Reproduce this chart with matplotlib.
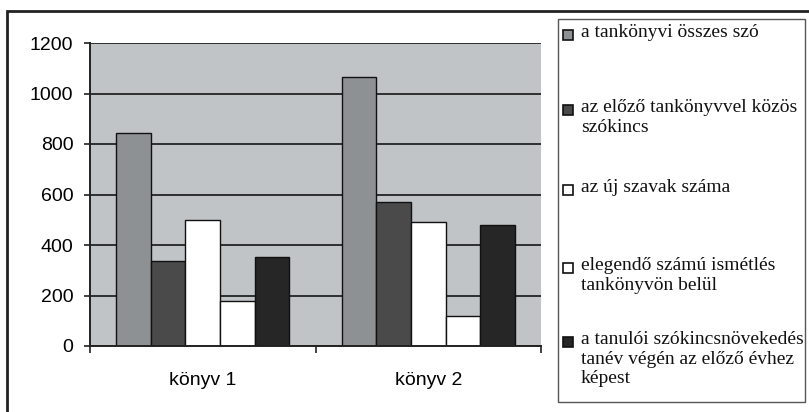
#!/usr/bin/env python3
"""Grouped bar chart: vocabulary counts per textbook (Hungarian labels)."""

import matplotlib

matplotlib.use("Agg")

import matplotlib.pyplot as plt
import numpy as np
from matplotlib.patches import Rectangle


CATEGORIES = ["könyv 1", "könyv 2"]
SERIES_LABELS = [
    "a tankönyvi összes szó",
    "az előző tankönyvvel közös\nszókincs",
    "az új szavak száma",
    "elegendő számú ismétlés\ntankönyvön belül",
    "a tanulói szókincsnövekedés\ntanév végén az előző évhez\nképest",
]
TOTAL_WORDS = [843, 1064]
SHARED_WORDS = [337, 570]
NEW_WORDS = [500, 490]
REPEATED_WORDS = [180, 120]
STUDENT_GROWTH = [351, 480]
Y_TICKS = [0, 200, 400, 600, 800, 1000, 1200]

COLORS = ["#8e9193", "#4a4a4b", "#ffffff", "#ffffff", "#262626"]
PLOT_BG = "#c0c4c7"
GRID_COLOR = "#2e2e2e"

W, H = 809, 412


def fx(px):
    return px / W


def fy(py):
    return 1 - py / H


def main() -> None:
    series = [TOTAL_WORDS, SHARED_WORDS, NEW_WORDS, REPEATED_WORDS, STUDENT_GROWTH]

    fig = plt.figure(figsize=(W / 100, H / 100), dpi=100)
    fig.patch.set_facecolor("white")

    # outer frame, runs off the right and bottom edges like the scan
    fig.patches.append(
        Rectangle((fx(7), -0.05), 1.1, fy(11) + 0.05, transform=fig.transFigure,
                  fill=False, edgecolor="#222222", linewidth=2.0, clip_on=False)
    )

    ax = fig.add_axes([fx(90), fy(346), fx(541) - fx(90), fy(43) - fy(346)])
    ax.set_facecolor(PLOT_BG)
    ax.set_axisbelow(True)

    x = np.arange(len(CATEGORIES))
    n = len(series)
    bar_w = 1 / (n + 1.5)
    for i, (vals, color) in enumerate(zip(series, COLORS)):
        ax.bar(x + (i - (n - 1) / 2) * bar_w, vals, width=bar_w, color=color,
               edgecolor="#111111", linewidth=1.0, zorder=2)

    ax.set_xlim(-0.5, len(CATEGORIES) - 0.5)
    ax.set_ylim(0, 1200)
    ax.set_yticks(Y_TICKS)
    ax.set_yticklabels([str(v) for v in Y_TICKS], fontsize=14,
                       family="Liberation Sans")
    ax.set_xticks(x)
    ax.set_xticklabels(CATEGORIES, fontsize=14, family="Liberation Sans")
    ax.set_xticks(np.arange(len(CATEGORIES) + 1) - 0.5, minor=True)
    ax.tick_params(axis="x", which="major", length=0, pad=19)
    ax.tick_params(axis="x", which="minor", length=5, width=1.2, direction="out",
                   color="#222222")
    ax.tick_params(axis="y", length=4, width=1.2, direction="out", pad=8,
                   color="#222222")
    ax.grid(axis="y", color=GRID_COLOR, linewidth=1.4, zorder=1)

    for side in ["top", "right"]:
        ax.spines[side].set_visible(False)
    for side in ["left", "bottom"]:
        ax.spines[side].set_color("#222222")
        ax.spines[side].set_linewidth(1.4)

    # legend, drawn by hand so entries sit at Excel-like even spacing
    fig.patches.append(
        Rectangle((fx(558), fy(402)), fx(805) - fx(558), fy(19) - fy(402),
                  transform=fig.transFigure, fill=False, edgecolor="#555555",
                  linewidth=1.0)
    )
    entry_y = [35, 110, 190, 268, 342]
    for label, color, py in zip(SERIES_LABELS, COLORS, entry_y):
        fig.patches.append(
            Rectangle((fx(563), fy(py + 5)), fx(10), 10 / H,
                      transform=fig.transFigure, facecolor=color,
                      edgecolor="#111111", linewidth=1.2)
        )
        fig.text(fx(581), fy(py - 11), label, fontsize=14,
                 family="Liberation Serif", ha="left", va="top",
                 linespacing=1.2, color="#111111")

    fig.savefig("out.png", dpi=100)
    plt.close(fig)


if __name__ == "__main__":
    main()
